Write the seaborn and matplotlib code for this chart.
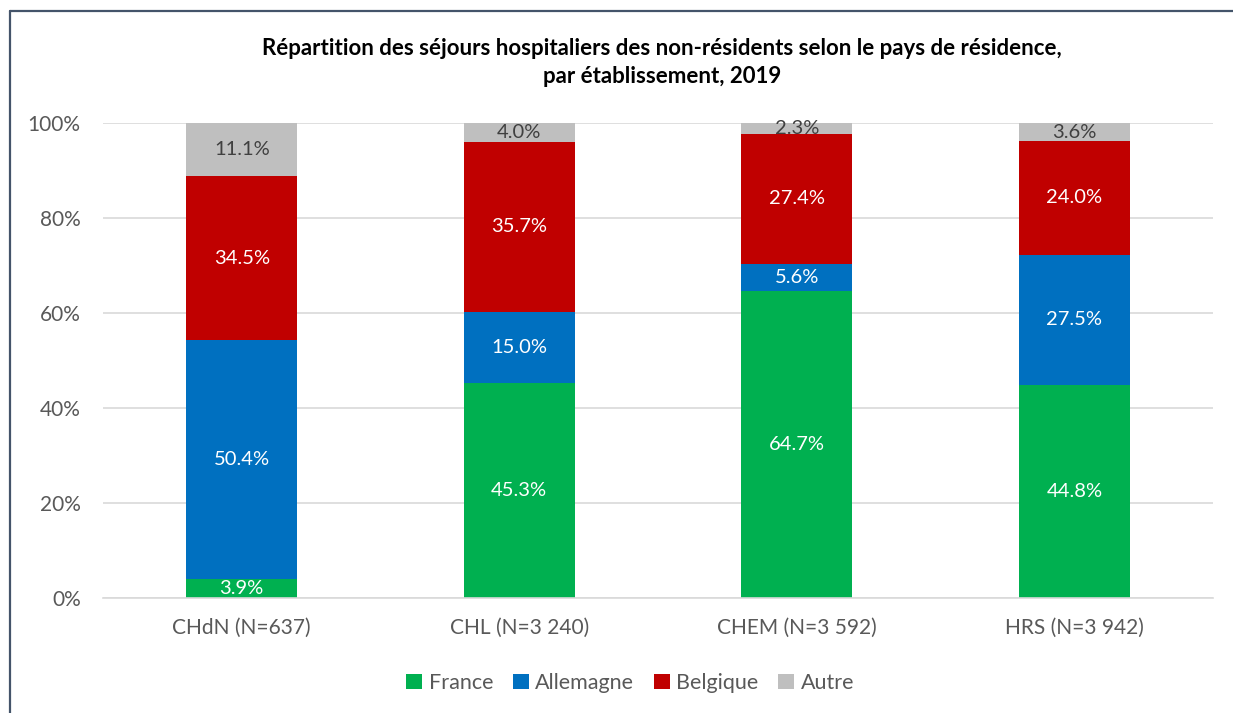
import matplotlib
matplotlib.use("Agg")
import matplotlib.pyplot as plt
import seaborn as sns
import numpy as np
import pandas as pd
from matplotlib.patches import Patch
from matplotlib.lines import Line2D

categories = ["CHdN (N=637)", "CHL (N=3 240)", "CHEM (N=3 592)", "HRS (N=3 942)"]
series_names = ["France", "Allemagne", "Belgique", "Autre"]
france = [3.9, 45.3, 64.7, 44.8]
allemagne = [50.4, 15.0, 5.6, 27.5]
belgique = [34.5, 35.7, 27.4, 24.0]
autre = [11.1, 4.0, 2.3, 3.6]
colors = ["#00B050", "#0070C0", "#C00000", "#BFBFBF"]
label_colors = ["white", "white", "white", "#404040"]
title = "Répartition des séjours hospitaliers des non-résidents selon le pays de résidence,\npar établissement, 2019"

sns.set_theme(style="white")
plt.rcParams["font.family"] = ["Lato", "DejaVu Sans"]

fig = plt.figure(figsize=(12.33, 7.13), dpi=100)
ax = fig.add_axes([0.0835, 0.1613, 0.9005, 0.6662])

series = [france, allemagne, belgique, autre]
vals = np.array(series) / 100.0
cum = np.cumsum(vals, axis=0)
bottoms = cum - vals

# draw from top layer down so each lower layer covers the previous one
for i in range(len(series) - 1, -1, -1):
    df = pd.DataFrame({"cat": categories, "val": cum[i]})
    sns.barplot(data=df, x="cat", y="val", color=colors[i], width=0.4,
                linewidth=0, saturation=1, ax=ax, zorder=2)

for i in range(len(series)):
    for j in range(len(categories)):
        yc = bottoms[i, j] + vals[i, j] / 2
        ax.text(j, yc, f"{series[i][j]:.1f}%", ha="center", va="center",
                fontsize=14.5, color=label_colors[i], zorder=3)

ax.set_ylim(0, 1)
ax.set_xlim(-0.5, 3.5)
ax.set_yticks([0, 0.2, 0.4, 0.6, 0.8, 1.0])
ax.set_yticklabels(["0%", "20%", "40%", "60%", "80%", "100%"])
ax.yaxis.grid(True, color="#D9D9D9", linewidth=1.2, zorder=0)
ax.set_axisbelow(True)
for s in ["top", "right", "left"]:
    ax.spines[s].set_visible(False)
ax.spines["bottom"].set_color("#D9D9D9")
ax.spines["bottom"].set_linewidth(1.2)
ax.tick_params(axis="y", labelsize=15, colors="#595959", length=0, pad=16)
ax.tick_params(axis="x", labelsize=15, colors="#595959", length=0, pad=14)
ax.set_xlabel("")
ax.set_ylabel("")

fig.text(0.537, 0.912, title, ha="center", va="center", fontsize=16,
         fontweight="bold", color="black", linespacing=1.4)

handles = [Patch(facecolor=c, edgecolor="none") for c in colors]
fig.legend(handles, series_names, loc="center", bbox_to_anchor=(0.511, 0.042),
           ncol=4, frameon=False, fontsize=15.5, handlelength=0.75, handleheight=0.75,
           handletextpad=0.3, columnspacing=0.9, labelcolor="#595959")

# chart border (top and left visible)
fig.add_artist(Line2D([10 / 1233, 1.0], [1 - 11 / 713, 1 - 11 / 713],
                      transform=fig.transFigure, color="#44546A", linewidth=1.6))
fig.add_artist(Line2D([10 / 1233, 10 / 1233], [0, 1 - 11 / 713],
                      transform=fig.transFigure, color="#44546A", linewidth=1.6))

fig.savefig("out.png", dpi=100)
